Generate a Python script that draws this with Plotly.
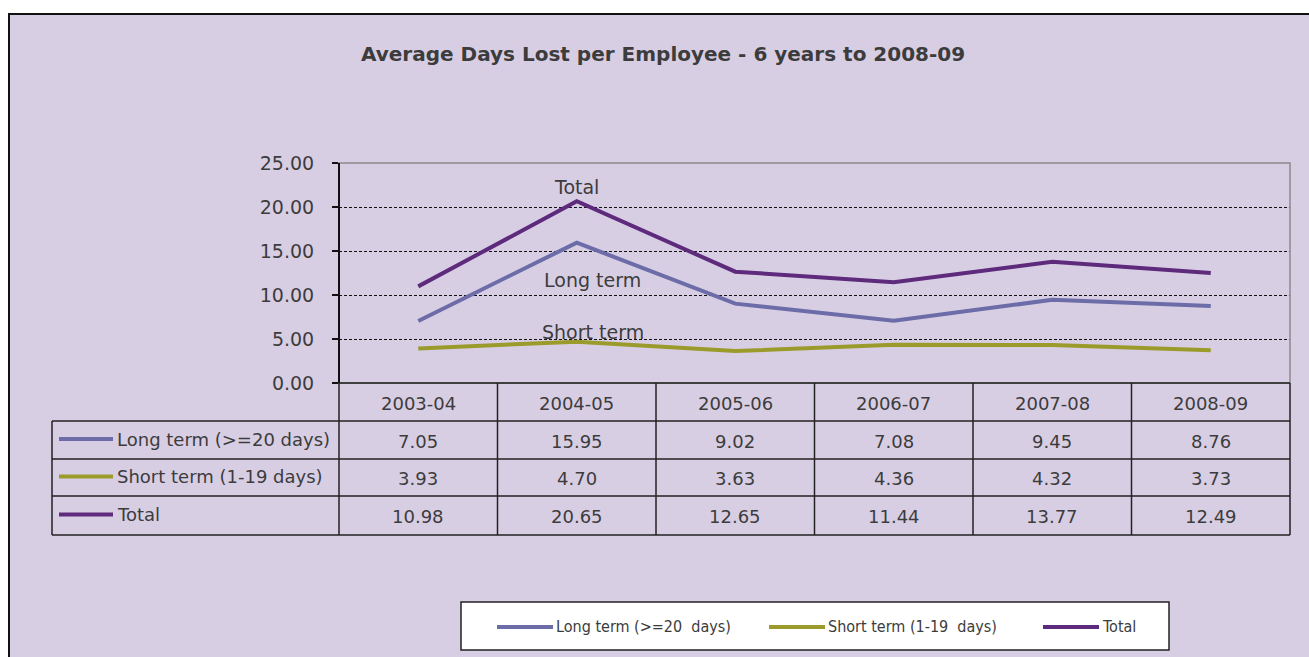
import plotly.graph_objects as go

W, H = 1309, 657

categories = ["2003-04", "2004-05", "2005-06", "2006-07", "2007-08", "2008-09"]
long_term = [7.05, 15.95, 9.02, 7.08, 9.45, 8.76]
short_term = [3.93, 4.70, 3.63, 4.36, 4.32, 3.73]
total = [10.98, 20.65, 12.65, 11.44, 13.77, 12.49]
series_names = ["Long term (>=20 days)", "Short term (1-19 days)", "Total"]
legend_names = ["Long term (>=20  days)", "Short term (1-19  days)", "Total"]
line_labels = ["Long term", "Short term", "Total"]
y_ticks = [0, 5, 10, 15, 20, 25]

colors = ["#6c6ca8", "#9b9b2c", "#5e2a7c"]
BG = "#d8cee4"
TXT = "#3c3c3c"
FONT = "DejaVu Sans"
FONT_NARROW = "DejaVu Sans Condensed, DejaVu Sans"


def px(x):
    return x / W


def py(y):
    return 1 - y / H


# plot area in pixels
PL, PR, PT, PB = 339, 1290, 163, 383

fig = go.Figure()
series = [long_term, short_term, total]
for name, vals, c in zip(series_names, series, colors):
    fig.add_trace(go.Scatter(
        x=categories, y=vals, mode="lines", name=name,
        line=dict(color=c, width=4), showlegend=False,
        hovertemplate="%{x}: %{y:.2f}<extra>" + name + "</extra>"))

shapes = []
annotations = []

# outer background panel
shapes.append(dict(type="rect", xref="paper", yref="paper", layer="below",
                   x0=px(9), x1=px(1320), y0=py(670), y1=py(14),
                   fillcolor=BG, line=dict(color="#111111", width=2)))
# plot border (gray top/right)
shapes.append(dict(type="rect", xref="paper", yref="paper",
                   x0=px(PL), x1=px(PR), y0=py(PB), y1=py(PT),
                   line=dict(color="#8a8a8a", width=1.5)))
# left axis line
shapes.append(dict(type="line", xref="paper", yref="paper",
                   x0=px(PL), x1=px(PL), y0=py(PB), y1=py(PT),
                   line=dict(color="#111111", width=2)))

# table
col_edges = [52, PL]
ncol = len(categories)
cw = (PR - PL) / ncol
for i in range(1, ncol + 1):
    col_edges.append(PL + cw * i)
row_edges = [PB, 421, 459, 496, 535]
lc = dict(color="#222222", width=1.5)
shapes.append(dict(type="line", xref="paper", yref="paper", x0=px(PL), x1=px(PR),
                   y0=py(row_edges[0]), y1=py(row_edges[0]), line=lc))
for r in row_edges[1:]:
    shapes.append(dict(type="line", xref="paper", yref="paper", x0=px(52), x1=px(PR),
                       y0=py(r), y1=py(r), line=lc))
shapes.append(dict(type="line", xref="paper", yref="paper", x0=px(52), x1=px(52),
                   y0=py(row_edges[1]), y1=py(row_edges[-1]), line=lc))
for xe in col_edges[1:]:
    shapes.append(dict(type="line", xref="paper", yref="paper", x0=px(xe), x1=px(xe),
                       y0=py(row_edges[0]), y1=py(row_edges[-1]), line=lc))

tfont = dict(family=FONT, size=18, color=TXT)
for c in categories:
    annotations.append(dict(x=c, y=py((row_edges[0] + row_edges[1]) / 2 + 1), xref="x", yref="paper",
                            text=c, showarrow=False, font=tfont, xanchor="center", yanchor="middle"))
for ri, (name, vals, col) in enumerate(zip(series_names, series, colors)):
    ymid = (row_edges[ri + 1] + row_edges[ri + 2]) / 2 + 1
    shapes.append(dict(type="line", xref="paper", yref="paper", x0=px(59), x1=px(113),
                       y0=py(ymid - 2), y1=py(ymid - 2), line=dict(color=col, width=4)))
    annotations.append(dict(x=px(115), y=py(ymid - 2), xref="paper", yref="paper", text=name,
                            showarrow=False, font=dict(family=FONT, size=18, color=TXT),
                            xanchor="left", yanchor="middle"))
    for c, v in zip(categories, vals):
        annotations.append(dict(x=c, y=py(ymid), xref="x", yref="paper", text=f"{v:.2f}",
                                showarrow=False, font=tfont, xanchor="center", yanchor="middle"))

# line labels
lfont = dict(family=FONT, size=19, color=TXT)
annotations.append(dict(x=1, y=total[1] + 1.6, xref="x", yref="y", text=line_labels[2],
                        showarrow=False, font=lfont, xanchor="center", yanchor="middle"))
annotations.append(dict(x=1.1, y=long_term[1] - 4.3, xref="x", yref="y", text=line_labels[0],
                        showarrow=False, font=lfont, xanchor="center", yanchor="middle"))
annotations.append(dict(x=1.1, y=short_term[1] + 1.1, xref="x", yref="y", text=line_labels[1],
                        showarrow=False, font=lfont, xanchor="center", yanchor="middle"))

# title
annotations.append(dict(x=px(663), y=py(54), xref="paper", yref="paper",
                        text="<b>Average Days Lost per Employee - 6 years to 2008-09</b>",
                        showarrow=False, font=dict(family=FONT, size=20, color=TXT),
                        xanchor="center", yanchor="middle"))

# custom legend box
shapes.append(dict(type="rect", xref="paper", yref="paper",
                   x0=px(461), x1=px(1169), y0=py(650), y1=py(602),
                   fillcolor="white", line=dict(color="#222222", width=1.5)))
leg_x = [497, 769, 1043]
lgfont = dict(family=FONT_NARROW, size=16, color=TXT)
for lx, name, col in zip(leg_x, legend_names, colors):
    shapes.append(dict(type="line", xref="paper", yref="paper", x0=px(lx), x1=px(lx + 56),
                       y0=py(627), y1=py(627), line=dict(color=col, width=4)))
    annotations.append(dict(x=px(lx + 57), y=py(626), xref="paper", yref="paper", text=name,
                            showarrow=False, font=lgfont, xanchor="left", yanchor="middle"))

fig.update_layout(
    width=W, height=H, autosize=False,
    margin=dict(l=0, r=0, t=0, b=0, autoexpand=False),
    paper_bgcolor="white", plot_bgcolor="white",
    showlegend=False,
    shapes=shapes, annotations=annotations,
    xaxis=dict(domain=[px(PL), px(PR)], type="category", range=[-0.5, ncol - 0.5],
               showticklabels=False, showgrid=False, zeroline=False, showline=False, ticks="",
               automargin=False),
    yaxis=dict(domain=[py(PB), py(PT)], range=[0, 25], tickvals=y_ticks, tickformat=".2f",
               showgrid=True, gridcolor="#111111", griddash="3px,2px", gridwidth=1,
               zeroline=False, showline=False, ticks="outside", ticklen=6, tickcolor="#111111",
               tickwidth=1.5, ticklabelstandoff=14, automargin=False,
               tickfont=dict(family=FONT, size=19, color=TXT)),
)

fig.write_html("out.html", config={"displayModeBar": False},
               post_script="document.body.style.margin='0';document.body.style.overflow='hidden';")
